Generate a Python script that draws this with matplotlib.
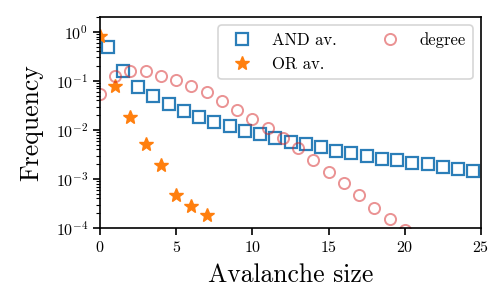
import matplotlib
matplotlib.use("Agg")
import matplotlib.pyplot as plt
import numpy as np

plt.rcParams['font.family'] = 'serif'
plt.rcParams['font.serif'] = ['cmr10']
plt.rcParams['mathtext.fontset'] = 'cm'
plt.rcParams['axes.formatter.use_mathtext'] = True

and_x = [0.5, 1.5, 2.5, 3.5, 4.5, 5.5, 6.5, 7.5, 8.5, 9.5, 10.5, 11.5, 12.5,
         13.5, 14.5, 15.5, 16.5, 17.5, 18.5, 19.5, 20.5, 21.5, 22.5, 23.5, 24.5]
and_y = [0.48, 0.156, 0.076, 0.048, 0.033, 0.024, 0.018, 0.0144, 0.0120, 0.0097,
         0.0082, 0.0068, 0.0058, 0.0051, 0.0045, 0.0038, 0.0034, 0.0030, 0.0026,
         0.0024, 0.0021, 0.0020, 0.00176, 0.00163, 0.00146]

or_x = [0, 1, 2, 3, 4, 5, 6, 7]
or_y = [0.82, 0.08, 0.018, 0.0052, 0.0019, 0.00047, 0.00028, 0.00018]

deg_x = [0, 1, 2, 3, 4, 5, 6, 7, 8, 9, 10, 11, 12, 13, 14, 15, 16, 17, 18, 19, 20]
deg_y = [0.053, 0.123, 0.16, 0.16, 0.123, 0.104, 0.078, 0.058, 0.039, 0.025,
         0.017, 0.011, 0.0067, 0.0043, 0.0024, 0.00139, 0.00083, 0.00048,
         0.00026, 0.00015, 0.000091]

fig = plt.figure(figsize=(4.99, 3.08), dpi=100)
ax = fig.add_axes([0.2004, 0.2597, 0.7636, 0.685])

ax.plot(and_x, and_y, ls='none', marker='s', ms=8.5, mfc='none', mec='tab:blue',
        mew=1.6, alpha=0.95, label='AND av.')
ax.plot(or_x, or_y, ls='none', marker='*', ms=10.5, color='tab:orange', mec='tab:orange',
        label='OR av.')
ax.plot(deg_x, deg_y, ls='none', marker='o', ms=8, mfc='none', mec='tab:red',
        mew=1.4, alpha=0.5, label='degree')

ax.set_yscale('log')
ax.set_xlim(0, 25)
ax.set_ylim(1e-4, 2)
ax.set_xticks([0, 5, 10, 15, 20, 25])
ax.tick_params(axis='both', which='major', direction='out', length=5, width=1.2,
               labelsize=11.5)
ax.tick_params(axis='y', which='minor', direction='out', length=3, width=0.8)
for s in ax.spines.values():
    s.set_linewidth(1.2)

ax.set_xlabel('Avalanche size', fontsize=18.5, labelpad=6)
ax.set_ylabel('Frequency', fontsize=18.5, labelpad=9)

leg = ax.legend(loc='upper right', ncol=2, fontsize=12, handletextpad=0.8,
                columnspacing=2.2, borderpad=0.4, labelspacing=0.55, frameon=True)
leg.get_frame().set_linewidth(1.2)

fig.savefig('out.png', dpi=100)
